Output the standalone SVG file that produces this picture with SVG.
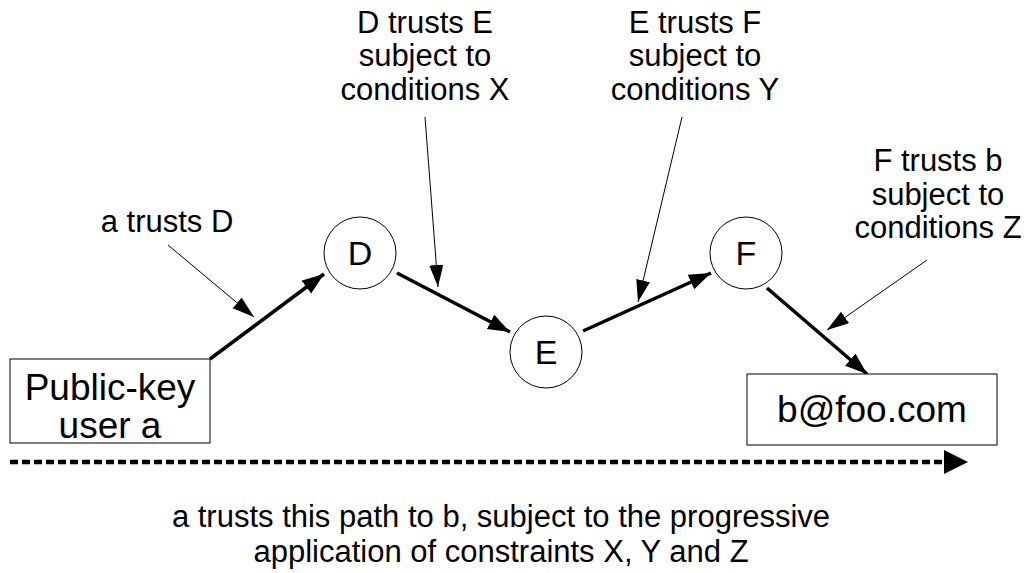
<svg xmlns="http://www.w3.org/2000/svg" width="1031" height="573" viewBox="0 0 1031 573">
<style>
.box{fill:#fff;stroke:#000;stroke-width:1}
.node{fill:#fff;stroke:#000;stroke-width:1}
.lbl{font-family:"Liberation Sans",Arial,sans-serif;fill:#000;text-anchor:middle}
.top{font-size:31px}
.thick{stroke:#000;stroke-width:3.5;fill:none}
.thin{stroke:#000;stroke-width:1;fill:none}
</style>
<defs>
<marker id="ah" markerUnits="userSpaceOnUse" markerWidth="24" markerHeight="18" refX="22" refY="8" orient="auto">
<path d="M0,0 L22,8 L0,16 z" fill="#000"/>
</marker>
<marker id="ahs" markerUnits="userSpaceOnUse" markerWidth="24" markerHeight="16" refX="22" refY="7" orient="auto">
<path d="M0,0 L22,7 L0,14 z" fill="#000"/>
</marker>
</defs>
<rect width="1031" height="573" fill="#fff"/>
<g id="connectors">
<line class="thick" x1="210" y1="359" x2="324" y2="274" marker-end="url(#ah)"/>
<line class="thick" x1="397" y1="273" x2="510" y2="332" marker-end="url(#ah)"/>
<line class="thick" x1="583" y1="331" x2="711" y2="273" marker-end="url(#ah)"/>
<line class="thick" x1="767" y1="288" x2="867" y2="374" marker-end="url(#ah)"/>
<line class="thin" x1="168" y1="245" x2="254" y2="317" marker-end="url(#ahs)"/>
<line class="thin" x1="425" y1="117" x2="438" y2="287" marker-end="url(#ahs)"/>
<line class="thin" x1="682" y1="117" x2="638" y2="302" marker-end="url(#ahs)"/>
<line class="thin" x1="927" y1="260" x2="827" y2="330" marker-end="url(#ahs)"/>
<line x1="10" y1="462" x2="946" y2="462" stroke="#000" stroke-width="4.5" stroke-dasharray="8,4"/>
<path d="M944,450 L968,462 L944,474 z" fill="#000"/>
</g>
<g id="user-a">
<rect class="box" x="10" y="359" width="200" height="84"/>
<text class="lbl" x="110" y="400" font-size="37">Public-key</text>
<text class="lbl" x="110" y="438" font-size="37">user a</text>
</g>
<g id="node-D">
<circle class="node" cx="360" cy="253" r="36"/>
<text class="lbl" x="360" y="265" font-size="34">D</text>
</g>
<g id="node-E">
<circle class="node" cx="546" cy="352" r="36"/>
<text class="lbl" x="546" y="364" font-size="34">E</text>
</g>
<g id="node-F">
<circle class="node" cx="746" cy="253" r="36"/>
<text class="lbl" x="746" y="265" font-size="34">F</text>
</g>
<g id="b-foo">
<rect class="box" x="747" y="374" width="250" height="71"/>
<text class="lbl" x="872" y="422" font-size="37">b@foo.com</text>
</g>
<g id="label-aD">
<text class="lbl top" x="167" y="232">a trusts D</text>
</g>
<g id="label-DE">
<text class="lbl top" x="425" y="33">D trusts E</text>
<text class="lbl top" x="425" y="66">subject to</text>
<text class="lbl top" x="425" y="100">conditions X</text>
</g>
<g id="label-EF">
<text class="lbl top" x="695" y="33">E trusts F</text>
<text class="lbl top" x="695" y="66">subject to</text>
<text class="lbl top" x="695" y="100">conditions Y</text>
</g>
<g id="label-Fb">
<text class="lbl top" x="938" y="171">F trusts b</text>
<text class="lbl top" x="938" y="205">subject to</text>
<text class="lbl top" x="938" y="238">conditions Z</text>
</g>
<g id="caption">
<text class="lbl" x="501" y="527" font-size="31">a trusts this path to b, subject to the progressive</text>
<text class="lbl" x="501" y="562" font-size="31">application of constraints X, Y and Z</text>
</g>
</svg>
